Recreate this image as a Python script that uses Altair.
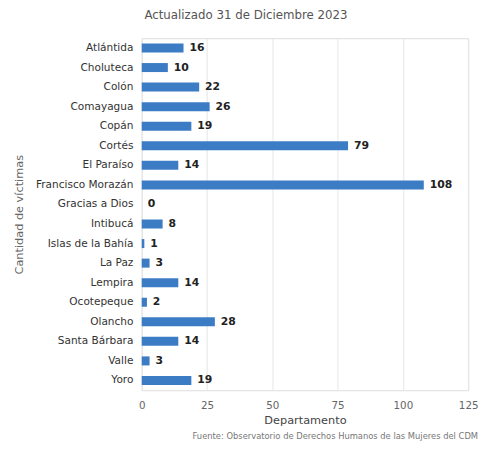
import altair as alt
import pandas as pd

departamentos = ["Atlántida", "Choluteca", "Colón", "Comayagua", "Copán", "Cortés",
                 "El Paraíso", "Francisco Morazán", "Gracias a Dios", "Intibucá",
                 "Islas de la Bahía", "La Paz", "Lempira", "Ocotepeque", "Olancho",
                 "Santa Bárbara", "Valle", "Yoro"]
victimas = [16, 10, 22, 26, 19, 79, 14, 108, 0, 8, 1, 3, 14, 2, 28, 14, 3, 19]
x_ticks = [0, 25, 50, 75, 100, 125]
titulo = "Actualizado 31 de Diciembre 2023"
fuente = "Fuente: Observatorio de Derechos Humanos de las Mujeres del CDM"

df = pd.DataFrame({"Departamento": departamentos, "Victimas": victimas})
FONT = "DejaVu Sans"
W, H = 332, 358

base = alt.Chart(df).encode(
    y=alt.Y("Departamento:N", sort=departamentos,
            scale=alt.Scale(paddingInner=0.54, paddingOuter=0.27),
            axis=alt.Axis(title="Cantidad de víctimas", labelFont=FONT, labelFontSize=10.7,
                          labelColor="#333333", labelPadding=9, ticks=False, domain=False,
                          labelLimit=300, titleFont=FONT, titleFontSize=11.5,
                          titleFontWeight="normal", titleColor="#666666",
                          titleX=-124, titleY=H / 2, titleAngle=270, titleAlign="center",
                          titleBaseline="middle")),
)

bars = base.mark_bar(color="#3b7cc4").encode(
    x=alt.X("Victimas:Q", scale=alt.Scale(domain=[0, 125], nice=False),
            axis=alt.Axis(values=x_ticks, title="Departamento", labelFont=FONT,
                          labelFontSize=10.5, labelColor="#666666", labelPadding=11,
                          labelFlush=False,
                          ticks=False, domain=False, grid=True, gridColor="#e6e6e6",
                          titleFont=FONT, titleFontSize=11.5, titleFontWeight="normal",
                          titleColor="#444444", titlePadding=3)),
)

labels = base.mark_text(align="left", baseline="middle", dx=6, font=FONT,
                        fontSize=11, fontWeight="bold", color="#222222").encode(
    x="Victimas:Q",
    text="Victimas:Q",
)

footer = alt.Chart(pd.DataFrame({"t": [fuente]})).mark_text(
    align="right", baseline="alphabetic", font=FONT, fontSize=8.5, color="#777777"
).encode(text="t:N", x=alt.value(W + 10), y=alt.value(H + 50))

chart = alt.layer(bars, labels, footer).properties(
    width=W, height=H,
    title=alt.TitleParams(titulo, font=FONT, fontSize=12, fontWeight="normal",
                          color="#555555", anchor="middle", dx=-60, offset=17),
    autosize=alt.AutoSizeParams(type="none"),
    padding={"left": 136, "top": 27, "right": 11, "bottom": 55},
).configure_view(stroke=None).configure(background="white")

chart.save("out.html", embed_options={"renderer": "svg", "actions": False})
